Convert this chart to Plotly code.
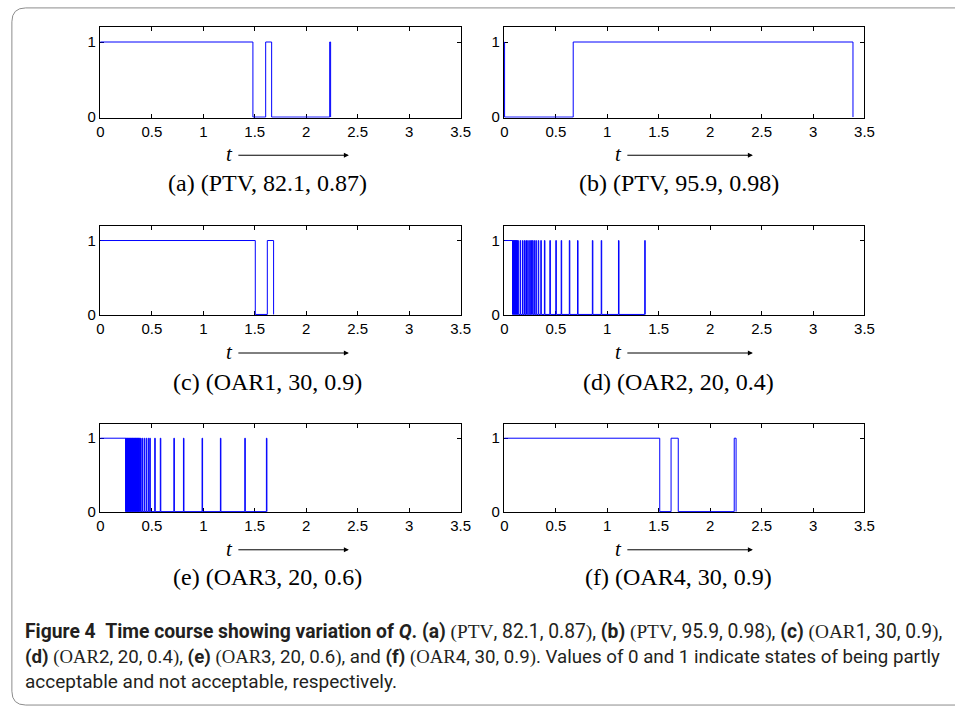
import plotly.graph_objects as go

W, H = 955, 716

# ---- switching data: time of each change and the state of Q after it ----
a_times = [0.0, 1.482, 1.606, 1.664, 2.228, 2.237]
a_states = [1, 0, 1, 0, 1, 0]

b_times = [0.0, 0.002, 0.669, 3.388]
b_states = [1, 0, 1, 0]

c_times = [0.0, 1.505, 1.622, 1.683]
c_states = [1, 0, 1, 0]

f_times = [0.0, 1.510, 1.620, 1.690, 2.234, 2.252]
f_states = [1, 0, 1, 0, 1, 0]

# OAR2 / OAR3: Q stays 1 until the first drop, then short pulses back to 1
d_first_drop = 0.080
d_pulses = [0.080, 0.086, 0.092, 0.098, 0.104, 0.110, 0.116, 0.122, 0.131,
            0.153, 0.176, 0.195, 0.210, 0.227, 0.246, 0.258, 0.271, 0.287,
            0.306, 0.329, 0.354, 0.389, 0.442, 0.500, 0.552, 0.631, 0.711,
            0.855, 0.941, 1.109, 1.364]
e_first_drop = 0.246
e_pulses = [0.246, 0.252, 0.258, 0.264, 0.270, 0.276, 0.282, 0.288, 0.294,
            0.300, 0.306, 0.312, 0.318, 0.324, 0.330, 0.336, 0.342, 0.348,
            0.354, 0.360, 0.366, 0.372, 0.378, 0.390, 0.405, 0.425, 0.445,
            0.465, 0.480, 0.528, 0.582, 0.714, 0.807, 0.988, 1.166, 1.403,
            1.613]
pulse_width = 0.005

panel_titles = ["(a) (PTV, 82.1, 0.87)", "(b) (PTV, 95.9, 0.98)",
                "(c) (OAR1, 30, 0.9)", "(d) (OAR2, 20, 0.4)",
                "(e) (OAR3, 20, 0.6)", "(f) (OAR4, 30, 0.9)"]

x_ticks = [0, 0.5, 1, 1.5, 2, 2.5, 3, 3.5]
x_ticklabels = ["0", "0.5", "1", "1.5", "2", "2.5", "3", "3.5"]
y_ticks = [0, 1]


def pulses_to_steps(first_drop, pulses, width):
    t = [0.0, first_drop]
    q = [1, 0]
    for s in pulses:
        t += [s, s + width]
        q += [1, 0]
    return t, q


d_times, d_states = pulses_to_steps(d_first_drop, d_pulses, pulse_width)
e_times, e_states = pulses_to_steps(e_first_drop, e_pulses, pulse_width)

series = [(a_times, a_states), (b_times, b_states), (c_times, c_states),
          (d_times, d_states), (e_times, e_states), (f_times, f_states)]

# ---- panel geometry (pixels) ----
col_left = [97.3, 507.3]
col_right = [463.4, 873.3]
row_top = [27.3, 228.3, 428.3]
row_bottom = [119.0, 318.6, 518.0]


def px(x):
    return x / W


def py(y):
    return 1 - y / H


fig = go.Figure()
axis_font = dict(family="Liberation Sans, Arial, sans-serif", size=15, color="black")

for i, (t, q) in enumerate(series):
    r, c = divmod(i, 2)
    n = "" if i == 0 else str(i + 1)
    fig.add_trace(go.Scatter(
        x=t, y=q, mode="lines", line=dict(color="#0000ff", width=1, shape="hv"),
        xaxis="x" + n, yaxis="y" + n, showlegend=False, hoverinfo="skip"))
    fig.layout["xaxis" + n] = dict(
        domain=[px(col_left[c]), px(col_right[c])], anchor="y" + n,
        range=[-0.005, 3.5], tickvals=x_ticks, ticktext=x_ticklabels,
        ticks="inside", ticklen=4, tickcolor="black", showline=True,
        linecolor="black", linewidth=1, mirror="ticks", showgrid=False,
        zeroline=False, tickfont=axis_font, layer="below traces")
    fig.layout["yaxis" + n] = dict(
        domain=[py(row_bottom[r]), py(row_top[r])], anchor="x" + n,
        range=[-0.008, 1.2], tickvals=y_ticks, ticks="inside", ticklen=4,
        tickcolor="black", showline=True, linecolor="black", linewidth=1,
        mirror="ticks", showgrid=False, zeroline=False, tickfont=axis_font,
        layer="below traces")

annotations = []
serif = "Liberation Serif, Times New Roman, serif"
t_y = [156, 356, 555]
title_y = [185, 386, 584]
title_x = [267, 685]
t_x = [229, 624]
arrow_end = [350, 760]
for i, title in enumerate(panel_titles):
    r, c = divmod(i, 2)
    annotations.append(dict(
        x=px(title_x[c]), y=py(title_y[r]), xref="paper", yref="paper",
        text=title, showarrow=False, xanchor="center", yanchor="middle",
        font=dict(family=serif, size=24, color="black")))
    annotations.append(dict(
        x=px(t_x[c]), y=py(t_y[r]), xref="paper", yref="paper",
        text="<i>t</i>", showarrow=False, xanchor="center", yanchor="middle",
        font=dict(family=serif, size=21, color="black")))
    annotations.append(dict(
        x=px(arrow_end[c]), y=py(t_y[r] + 1), xref="paper", yref="paper",
        text="", showarrow=True, ax=-(arrow_end[c] - t_x[c] - 9), ay=0,
        arrowhead=2, arrowsize=1, arrowwidth=1, arrowcolor="black"))

cap_font = "Roboto, sans-serif"


def sv(s):
    return "<span style='font-family:Liberation Serif'>" + s + "</span>"


caption_lines = [
    "<b>Figure 4&nbsp;&nbsp;Time course showing variation of <i>Q</i>.</b> "
    "<b>(a)</b> " + sv("(PTV") + ", 82.1, 0.87" + sv(")") + ", "
    "<b>(b)</b> " + sv("(PTV") + ", 95.9, 0.98" + sv(")") + ", "
    "<b>(c)</b> " + sv("(OAR") + "1, 30, 0.9" + sv(")") + ",",
    "<b>(d)</b> " + sv("(OAR") + "2, 20, 0.4" + sv(")") + ", "
    "<b>(e)</b> " + sv("(OAR") + "3, 20, 0.6" + sv(")") + ", and "
    "<b>(f)</b> " + sv("(OAR") + "4, 30, 0.9" + sv(")") +
    ". Values of 0 and 1 indicate states of being partly",
    "acceptable and not acceptable, respectively.",
]
caption_y = [639, 664, 689]
caption_size = [19.3, 18.7, 19.0]
for line, yy, fs in zip(caption_lines, caption_y, caption_size):
    annotations.append(dict(
        x=px(19), y=py(yy), xref="paper", yref="paper", text=line,
        showarrow=False, xanchor="left", yanchor="middle",
        font=dict(family=cap_font, size=fs, color="#231f20")))

# rounded frame around the whole figure
x0, y0, x1, y1, rr = 8, 8, 975, 713, 14
frame_path = (
    f"M {px(x0 + rr)},{py(y0)} L {px(x1)},{py(y0)} "
    f"M {px(x0)},{py(y0 + rr)} Q {px(x0)},{py(y0)} {px(x0 + rr)},{py(y0)} "
    f"M {px(x0)},{py(y0 + rr)} L {px(x0)},{py(y1 - rr)} "
    f"Q {px(x0)},{py(y1)} {px(x0 + rr)},{py(y1)} L {px(x1)},{py(y1)}")

fig.update_layout(
    width=W, height=H, margin=dict(l=0, r=0, t=0, b=0),
    paper_bgcolor="white", plot_bgcolor="white",
    annotations=annotations,
    shapes=[dict(type="path", path=frame_path, xref="paper", yref="paper",
                 line=dict(color="#8c8c8c", width=1))],
)

fig.write_html("out.html")
